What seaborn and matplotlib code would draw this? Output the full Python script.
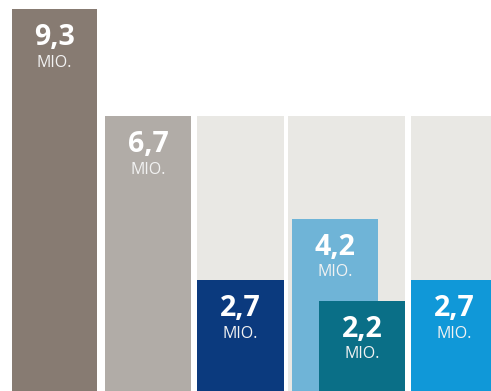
import matplotlib
matplotlib.use("Agg")
import matplotlib.pyplot as plt
import seaborn as sns
import pandas as pd

# ---- data ----
values = [9.3, 6.7, 2.7, 4.2, 2.2, 2.7]
labels = ["9,3", "6,7", "2,7", "4,2", "2,2", "2,7"]
unit = "MIO."
background_value = 6.7

# ---- layout / style ----
bar_x = [54.5, 148, 240.5, 335, 362, 454]
bar_w = [85, 86, 87, 86, 86, 86]
bar_colors = ["#877b72", "#b1aca7", "#0b3a7e", "#6fb4d7", "#0a6f87", "#1098d8"]
bg_x = [240.5, 346.5, 454]
bg_w = [87, 117, 86]
bg_color = "#e9e8e4"
num_offset = 0.70
mio_offset = 1.31

sns.set_theme(style="white")
plt.rcParams["font.family"] = ["Open Sans", "DejaVu Sans"]

fig = plt.figure(figsize=(4.91, 3.91), dpi=100)
ax = fig.add_axes([0, 0, 1, 1])

for x, w in zip(bg_x, bg_w):
    df = pd.DataFrame({"x": [x], "v": [background_value]})
    sns.barplot(data=df, x="x", y="v", native_scale=True, width=w, color=bg_color,
                saturation=1, errorbar=None, linewidth=0, ax=ax)

for x, w, v, c in zip(bar_x, bar_w, values, bar_colors):
    df = pd.DataFrame({"x": [x], "v": [v]})
    sns.barplot(data=df, x="x", y="v", native_scale=True, width=w, color=c,
                saturation=1, errorbar=None, linewidth=0, ax=ax)

for x, v, lab in zip(bar_x, values, labels):
    ax.text(x, v - num_offset, lab, ha="center", va="center", color="white",
            fontsize=20.5, fontweight="bold")
    ax.text(x, v - mio_offset, unit, ha="center", va="center", color="#f2f2f2",
            fontsize=11.5)

ax.set_xlim(0, 491)
ax.set_ylim(0, 9.52)
ax.set_axis_off()
fig.savefig("out.png", dpi=100, facecolor="white")
